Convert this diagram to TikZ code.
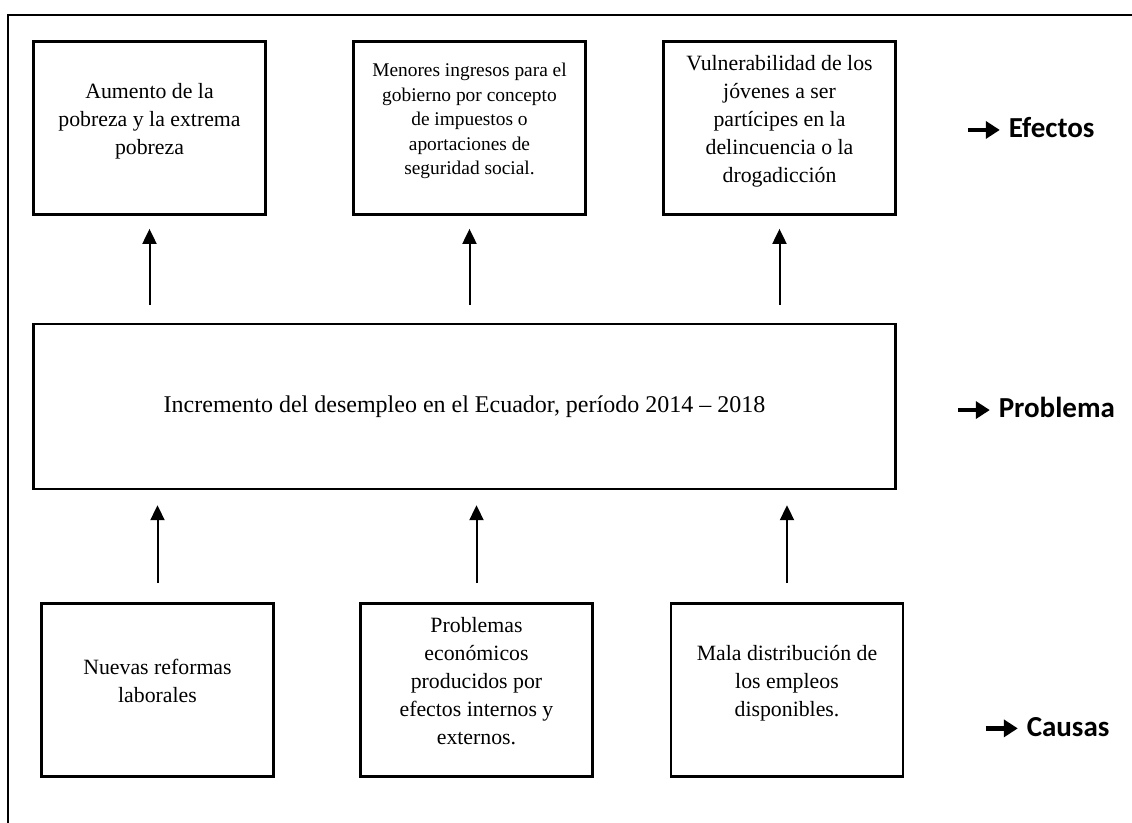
\documentclass[tikz,border=0pt]{standalone}
\usepackage{fontspec}
\setmainfont{Liberation Serif}
\newfontfamily\tagfont{Carlito}
\usepackage{tikz}
\usetikzlibrary{arrows.meta,calc,positioning}

\newcommand{\tagarrow}{\tikz[baseline=-0.55ex]{\draw[line width=2.4pt,-{Triangle[width=8.5pt,length=7pt]}] (0,0) -- (16pt,0);}}

\begin{document}
\begin{tikzpicture}[>={Triangle[width=7pt,length=7.5pt]}, line width=1pt,
    box/.style={rectangle, draw, line width=1.4pt, inner sep=0pt, align=center,
                minimum width=116pt, minimum height=86.5pt, text depth=9pt,
                font=\fontsize{10.9}{14}\selectfont},
    tag/.style={anchor=west, inner sep=0pt, font=\tagfont\bfseries\fontsize{14.5}{16}\selectfont}]
    \useasboundingbox (0,0) rectangle (566pt,-411.5pt);
    % outer frame (only top and left edges are visible)
    \draw (566pt,-7.5pt) -- (4pt,-7.5pt) -- (4pt,-411.5pt);

    % effects
    \node (E1) [box] at (74.75pt,-64pt) {Aumento de la\\ pobreza y la extrema\\ pobreza};
    \node (E2) [box, right of=E1, node distance=160pt, font=\fontsize{9.7}{12.3}\selectfont] {Menores ingresos para el\\ gobierno por concepto\\ de impuestos o\\ aportaciones de\\ seguridad social.};
    \node (E3) [box, right of=E2, node distance=155pt] {Vulnerabilidad de los\\ jóvenes a ser\\ partícipes en la\\ delincuencia o la\\ drogadicción};

    % problem
    \node (P) [box, minimum width=431pt, minimum height=82.5pt, line width=1.2pt, text depth={}, font=\fontsize{12}{14}\selectfont] at (232.25pt,-203.25pt) {Incremento del desempleo en el Ecuador, período 2014 -- 2018};

    % causes
    \node (C1) [box] at (78.75pt,-345pt) {Nuevas reformas\\ laborales};
    \node (C2) [box, right of=C1, node distance=159.5pt] {Problemas\\ económicos\\ producidos por\\ efectos internos y\\ externos.};
    \node (C3) [box, right of=C2, node distance=155.25pt] {Mala distribución de\\ los empleos\\ disponibles.};

    \draw[->, shorten <=9pt, shorten >=6.5pt] (P.north -| E1) -- (E1.south);
    \draw[->, shorten <=9pt, shorten >=6.5pt] (P.north -| E2) -- (E2.south);
    \draw[->, shorten <=9pt, shorten >=6.5pt] (P.north -| E3) -- (E3.south);

    \draw[->, shorten <=9.5pt, shorten >=7.5pt] (C1.north) -- (C1.north |- P.south);
    \draw[->, shorten <=9.5pt, shorten >=7.5pt] (C2.north) -- (C2.north |- P.south);
    \draw[->, shorten <=9.5pt, shorten >=7.5pt] (C3.north) -- (C3.north |- P.south);

    % row labels
    \node (LE) [tag] at (482.5pt,-64pt) {\tagarrow\ Efectos};
    \node (LP) [tag] at (477.5pt,-204pt) {\tagarrow\ Problema};
    \node (LC) [tag] at (491.5pt,-363.5pt) {\tagarrow\ Causas};
\end{tikzpicture}
\end{document}
